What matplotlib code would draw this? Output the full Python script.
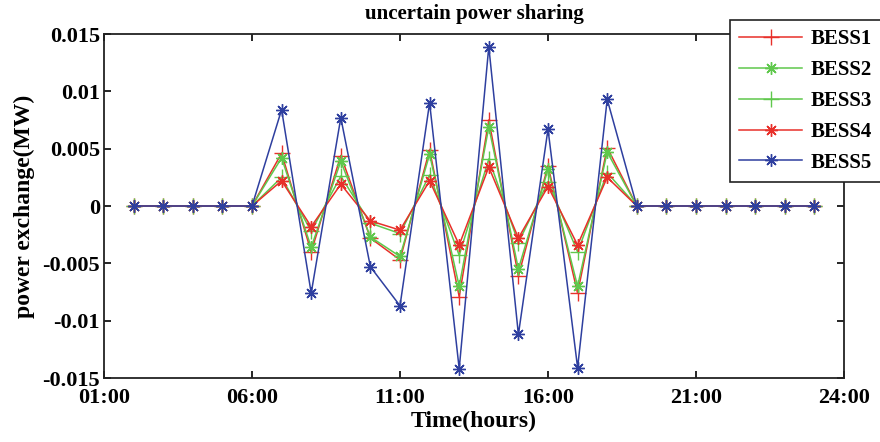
# uncertain power sharing - BESS exchange per hour

import matplotlib
matplotlib.use("Agg")
import matplotlib.pyplot as plt
from matplotlib.ticker import FixedLocator, FixedFormatter

plt.rcParams['font.family'] = ['Liberation Serif', 'DejaVu Serif']
plt.rcParams['font.weight'] = 'bold'
plt.rcParams['axes.unicode_minus'] = False

# data
hours = list(range(1, 25))
bess1 = [0, 0, 0, 0, 0, 0.0046, -0.0040, 0.0044, -0.0028, -0.0047, 0.0049, -0.0079,
         0.0075, -0.0061, 0.0035, -0.0076, 0.0051, 0, 0, 0, 0, 0, 0, 0]
bess2 = [0, 0, 0, 0, 0, 0.0042, -0.0036, 0.0039, -0.0027, -0.0044, 0.0045, -0.0070,
         0.0069, -0.0055, 0.0032, -0.0070, 0.0047, 0, 0, 0, 0, 0, 0, 0]
bess3 = [0, 0, 0, 0, 0, 0.0025, -0.0022, 0.0026, -0.0015, -0.0024, 0.0027, -0.0043,
         0.0041, -0.0032, 0.0021, -0.0040, 0.0029, 0, 0, 0, 0, 0, 0, 0]
bess4 = [0, 0, 0, 0, 0, 0.0022, -0.0018, 0.0019, -0.0013, -0.0021, 0.0022, -0.0034,
         0.0034, -0.0028, 0.0017, -0.0034, 0.0025, 0, 0, 0, 0, 0, 0, 0]
bess5 = [0, 0, 0, 0, 0, 0.0084, -0.0076, 0.0077, -0.0053, -0.0087, 0.0090, -0.0142,
         0.0139, -0.0112, 0.0067, -0.0141, 0.0093, 0, 0, 0, 0, 0, 0, 0]

xticks = [0, 5, 10, 15, 20, 25]
xticklabels = ['01:00', '06:00', '11:00', '16:00', '21:00', '24:00']
yticks = [-0.015, -0.01, -0.005, 0, 0.005, 0.01, 0.015]
yticklabels = ['-0.015', '-0.01', '-0.005', '0', '0.005', '0.01', '0.015']

red = '#e8302a'
green = '#5fc84c'
blue = '#2e3f9f'
star = (8, 2, 0)

fig = plt.figure(figsize=(8.8, 4.42), dpi=100)
ax = fig.add_axes([104 / 880, 64 / 442, 740 / 880, 344 / 442])

ax.plot(hours, bess1, color=red, marker='+', ms=11, mew=1.0, lw=1.1, label='BESS1')
ax.plot(hours, bess2, color=green, marker=star, ms=9, mew=1.0, lw=1.1, label='BESS2')
ax.plot(hours, bess3, color=green, marker='+', ms=11, mew=1.0, lw=1.1, label='BESS3')
ax.plot(hours, bess4, color=red, marker=star, ms=9, mew=1.0, lw=1.1, label='BESS4')
ax.plot(hours, bess5, color=blue, marker=star, ms=9, mew=1.0, lw=1.1, label='BESS5')

ax.set_xlim(0, 25)
ax.set_ylim(-0.015, 0.015)
ax.xaxis.set_major_locator(FixedLocator(xticks))
ax.xaxis.set_major_formatter(FixedFormatter(xticklabels))
ax.yaxis.set_major_locator(FixedLocator(yticks))
ax.yaxis.set_major_formatter(FixedFormatter(yticklabels))
ax.tick_params(direction='in', length=5, width=1.2, top=True, right=True,
               labelsize=16, pad=3)
ax.tick_params(axis='x', pad=7)
for s in ax.spines.values():
    s.set_linewidth(1.3)
    s.set_color('#222222')

ax.set_xlabel('Time(hours)', fontsize=17, fontweight='bold', labelpad=2)
ax.set_ylabel('power exchange(MW)', fontsize=17, fontweight='bold', labelpad=5)
ax.set_title('uncertain power sharing', fontsize=15, fontweight='bold', pad=11)

leg = ax.legend(loc='upper right', bbox_to_anchor=(881 / 880, 1 - 20 / 442),
                bbox_transform=fig.transFigure, fontsize=15, frameon=True,
                fancybox=False, framealpha=1, edgecolor='#222222',
                borderaxespad=0, handlelength=3.0, labelspacing=0.52,
                borderpad=0.45, handletextpad=0.4)
leg.get_frame().set_linewidth(1.2)

plt.savefig('out.png', dpi=100)
